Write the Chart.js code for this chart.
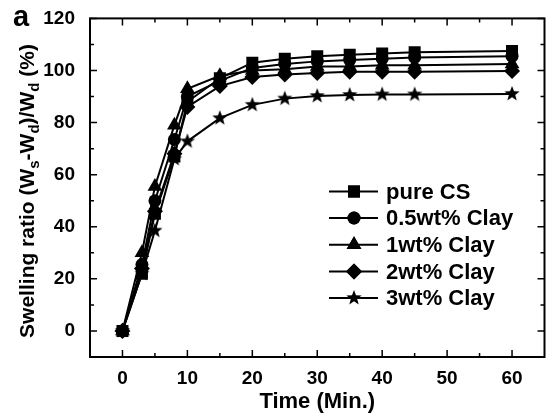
<!DOCTYPE html>
<html>
<head>
<meta charset="utf-8">
<script src="https://cdn.jsdelivr.net/npm/chart.js@4/dist/chart.umd.min.js"></script>
<style>
    html, body { margin: 0; padding: 0; background: #fff; }
    #wrap { width: 553px; height: 417px; }
</style>
</head>
<body>
<div id="wrap"><canvas id="chart" width="553" height="417"></canvas></div>
<script>
const times = [0, 3, 5, 8, 10, 15, 20, 25, 30, 35, 40, 45, 60];

const seriesNames = ["pure CS", "0.5wt% Clay", "1wt% Clay", "2wt% Clay", "3wt% Clay"];
const pureCS   = [0, 22, 45, 67, 88, 97, 103, 104.5, 105.5, 106, 106.5, 107, 107.5];
const clay05   = [0, 25.5, 50, 73.5, 90, 96, 101, 102.5, 103.5, 104, 104.5, 105, 105.5];
const clay1    = [0, 30, 55.5, 79, 93, 98, 100, 100.5, 101.5, 101.5, 102, 102, 102.5];
const clay2    = [0, 24, 46, 68, 86, 94, 97.5, 98.5, 99, 99.5, 99.5, 99.5, 99.8];
const clay3    = [0, 22, 38.5, 66, 72.8, 81.7, 86.8, 89.2, 90.2, 90.6, 90.8, 90.8, 91];

const xTicks = [0, 10, 20, 30, 40, 50, 60];
const xMinor = [5, 15, 25, 35, 45, 55];
const yTicks = [0, 20, 40, 60, 80, 100, 120];
const yMinor = [10, 30, 50, 70, 90, 110];

const FONT = "'Liberation Sans', Arial, sans-serif";

// filled five point star, Chart.js 'star' is only a cross of lines
function makeStar(r) {
    const c = document.createElement('canvas');
    const size = Math.ceil(r * 2 + 2);
    c.width = size;
    c.height = size;
    const g = c.getContext('2d');
    g.fillStyle = '#000';
    g.beginPath();
    for (let i = 0; i < 10; i++) {
        const rad = i % 2 === 0 ? r : r * 0.42;
        const a = -Math.PI / 2 + i * Math.PI / 5;
        const px = size / 2 + rad * Math.cos(a);
        const py = size / 2 + rad * Math.sin(a);
        if (i === 0) g.moveTo(px, py); else g.lineTo(px, py);
    }
    g.closePath();
    g.fill();
    return c;
}

const star = makeStar(8);

const styles = [
    { pointStyle: 'rect', radius: 8.5 },
    { pointStyle: 'circle', radius: 6.5 },
    { pointStyle: 'triangle', radius: 8.5 },
    { pointStyle: 'rectRot', radius: 8 },
    { pointStyle: star, radius: 8 }
];

const values = [pureCS, clay05, clay1, clay2, clay3];

const datasets = values.map((vals, i) => ({
    label: seriesNames[i],
    data: vals.map((v, j) => ({ x: times[j], y: v })),
    borderColor: '#000',
    backgroundColor: '#000',
    borderWidth: 2,
    pointStyle: styles[i].pointStyle,
    pointRadius: styles[i].radius,
    pointBorderWidth: 0,
    pointBackgroundColor: '#000',
    tension: 0
}));

// frame, inward ticks, y title with subscripts, panel letter and legend
const decor = {
    id: 'decor',
    afterDraw(chart) {
        const ctx = chart.ctx;
        const a = chart.chartArea;
        const xs = chart.scales.x;
        const ys = chart.scales.y;

        ctx.save();
        ctx.strokeStyle = '#000';
        ctx.lineWidth = 2;
        ctx.strokeRect(a.left, a.top, a.right - a.left, a.bottom - a.top);

        ctx.lineWidth = 1.5;
        ctx.beginPath();
        for (let v of xTicks.concat(xMinor)) {
            let len = xTicks.includes(v) ? 7 : 4;
            let px = xs.getPixelForValue(v);
            ctx.moveTo(px, a.bottom);
            ctx.lineTo(px, a.bottom - len);
            ctx.moveTo(px, a.top);
            ctx.lineTo(px, a.top + len);
        }
        for (let v of yTicks.concat(yMinor)) {
            let len = yTicks.includes(v) ? 7 : 4;
            let py = ys.getPixelForValue(v);
            ctx.moveTo(a.left, py);
            ctx.lineTo(a.left + len, py);
            ctx.moveTo(a.right, py);
            ctx.lineTo(a.right - len, py);
        }
        ctx.stroke();

        // y axis title
        ctx.fillStyle = '#000';
        ctx.translate(34, 191);
        ctx.rotate(-Math.PI / 2);
        const parts = [
            ["Swelling ratio (W", false], ["s", true], ["-W", false], ["d", true],
            [")/W", false], ["d", true], [" (%)", false]
        ];
        const big = "bold 21px " + FONT;
        const small = "bold 15px " + FONT;
        let total = 0;
        for (let p of parts) {
            ctx.font = p[1] ? small : big;
            total += ctx.measureText(p[0]).width;
        }
        let x = -total / 2;
        ctx.textBaseline = 'alphabetic';
        for (let p of parts) {
            ctx.font = p[1] ? small : big;
            ctx.fillText(p[0], x, p[1] ? 5 : 0);
            x += ctx.measureText(p[0]).width;
        }
        ctx.restore();

        // panel letter
        ctx.save();
        ctx.fillStyle = '#000';
        ctx.font = "bold 29px " + FONT;
        ctx.textBaseline = 'alphabetic';
        ctx.fillText("a", 13, 26);
        ctx.restore();

        // legend
        ctx.save();
        const rowY = [192.5, 219, 245.7, 272.5, 299];
        ctx.font = "bold 22px " + FONT;
        ctx.fillStyle = '#000';
        ctx.strokeStyle = '#000';
        ctx.lineWidth = 2;
        for (let i = 0; i < seriesNames.length; i++) {
            let y = rowY[i];
            ctx.beginPath();
            ctx.moveTo(329, y - 1);
            ctx.lineTo(378, y - 1);
            ctx.stroke();
            Chart.helpers.drawPoint(ctx, {
                pointStyle: styles[i].pointStyle,
                radius: styles[i].radius,
                borderWidth: 0,
                rotation: 0
            }, 354, y - 1);
            ctx.fill();
            ctx.textBaseline = 'middle';
            ctx.fillText(seriesNames[i], 386, y);
        }
        ctx.restore();
    }
};

new Chart(document.getElementById('chart'), {
    type: 'line',
    data: { datasets: datasets },
    options: {
        responsive: false,
        animation: false,
        layout: { padding: { left: 0, top: 15, right: 3, bottom: 0 } },
        plugins: {
            legend: { display: false },
            tooltip: { enabled: false }
        },
        scales: {
            x: {
                type: 'linear',
                min: -5,
                max: 65,
                afterBuildTicks: (scale) => {
                    scale.ticks = xTicks.map((v) => ({ value: v }));
                },
                afterFit: (scale) => { scale.height = 60; },
                grid: { display: false },
                border: { display: false },
                ticks: {
                    color: '#000',
                    padding: 2,
                    maxRotation: 0,
                    font: { family: FONT, size: 19, weight: 'bold' }
                },
                title: {
                    display: true,
                    text: 'Time (Min.)',
                    color: '#000',
                    padding: { top: 0, bottom: 2 },
                    font: { family: FONT, size: 22, weight: 'bold' }
                }
            },
            y: {
                min: -10,
                max: 120,
                afterBuildTicks: (scale) => {
                    scale.ticks = yTicks.map((v) => ({ value: v }));
                },
                afterFit: (scale) => { scale.width = 90; },
                grid: { display: false },
                border: { display: false },
                ticks: {
                    color: '#000',
                    padding: 7,
                    font: { family: FONT, size: 19, weight: 'bold' }
                }
            }
        }
    },
    plugins: [decor]
});
</script>
</body>
</html>
